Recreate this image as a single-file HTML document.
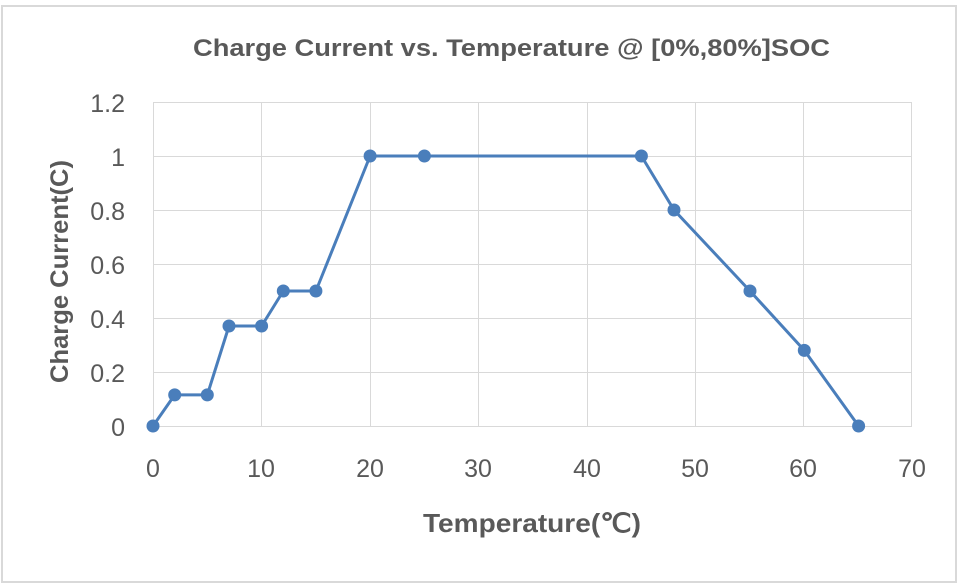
<!DOCTYPE html>
<html><head><style>body{margin:0;background:#fff}svg{display:block}</style></head><body>
<svg width="959" height="585" xmlns="http://www.w3.org/2000/svg" font-family="'Liberation Sans', sans-serif">
<rect x="2" y="6" width="954" height="576" fill="#fff" stroke="#d9d9d9" stroke-width="2"/>
<text x="193" y="56" textLength="637" lengthAdjust="spacingAndGlyphs" font-size="24" font-weight="bold" fill="#595959">Charge Current vs. Temperature @ [0%,80%]SOC</text>
<g stroke="#d9d9d9" stroke-width="1">
<line x1="153" y1="102.5" x2="912" y2="102.5"/><line x1="153" y1="156.5" x2="912" y2="156.5"/><line x1="153" y1="210.5" x2="912" y2="210.5"/><line x1="153" y1="264.5" x2="912" y2="264.5"/><line x1="153" y1="318.5" x2="912" y2="318.5"/><line x1="153" y1="372.5" x2="912" y2="372.5"/><line x1="153" y1="426.5" x2="912" y2="426.5"/>
<line x1="153.5" y1="102" x2="153.5" y2="426"/><line x1="261.5" y1="102" x2="261.5" y2="426"/><line x1="370.5" y1="102" x2="370.5" y2="426"/><line x1="478.5" y1="102" x2="478.5" y2="426"/><line x1="587.5" y1="102" x2="587.5" y2="426"/><line x1="695.5" y1="102" x2="695.5" y2="426"/><line x1="803.5" y1="102" x2="803.5" y2="426"/><line x1="911.5" y1="102" x2="911.5" y2="426"/>
</g>
<g font-size="25" fill="#595959" text-anchor="end">
<text x="125" y="112">1.2</text><text x="125" y="166">1</text><text x="125" y="220">0.8</text><text x="125" y="274">0.6</text><text x="125" y="328">0.4</text><text x="125" y="382">0.2</text><text x="125" y="436">0</text>
</g>
<g font-size="25" fill="#595959" text-anchor="middle">
<text x="153" y="477">0</text><text x="261" y="477">10</text><text x="370" y="477">20</text><text x="478" y="477">30</text><text x="587" y="477">40</text><text x="695" y="477">50</text><text x="803" y="477">60</text><text x="912" y="477">70</text>
</g>
<text x="423" y="532" textLength="218" lengthAdjust="spacingAndGlyphs" font-size="26" font-weight="bold" fill="#595959">Temperature(℃)</text>
<text transform="translate(68,383) rotate(-90)" textLength="223" lengthAdjust="spacingAndGlyphs" font-size="25" font-weight="bold" fill="#595959">Charge Current(C)</text>
<polyline fill="none" stroke="#4a7ebb" stroke-width="3" stroke-linejoin="round" points="153,426 174.7,394.9 207.3,394.9 229,326 261.6,326 283.3,291 315.9,291 370.1,156 424.4,156 641.4,156 674,210 750,291 804.3,350.4 858.6,426"/>
<g fill="#4a7ebb">
<circle cx="153" cy="426" r="6.5"/><circle cx="174.7" cy="394.9" r="6.5"/><circle cx="207.3" cy="394.9" r="6.5"/><circle cx="229" cy="326" r="6.5"/><circle cx="261.6" cy="326" r="6.5"/><circle cx="283.3" cy="291" r="6.5"/><circle cx="315.9" cy="291" r="6.5"/><circle cx="370.1" cy="156" r="6.5"/><circle cx="424.4" cy="156" r="6.5"/><circle cx="641.4" cy="156" r="6.5"/><circle cx="674" cy="210" r="6.5"/><circle cx="750" cy="291" r="6.5"/><circle cx="804.3" cy="350.4" r="6.5"/><circle cx="858.6" cy="426" r="6.5"/>
</g>
</svg>
</body></html>
